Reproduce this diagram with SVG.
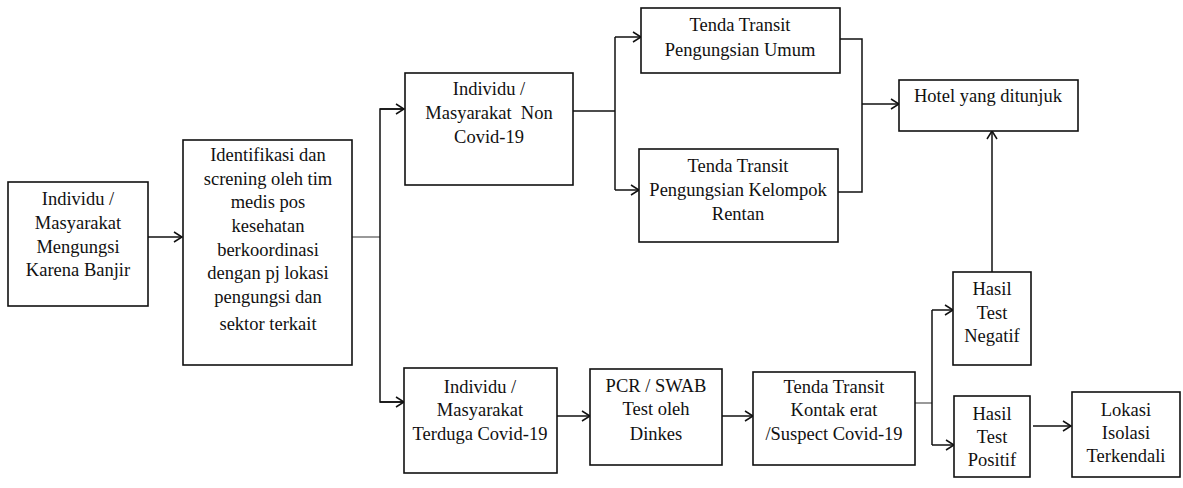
<svg xmlns="http://www.w3.org/2000/svg" width="1183" height="488" viewBox="0 0 1183 488">
<style>
.box{fill:#fff;stroke:#111;stroke-width:1.6}
.t{font-family:"Liberation Serif","Times New Roman",serif;font-size:18.5px;fill:#111;text-anchor:middle}
.c{fill:none;stroke:#111;stroke-width:1.5}
.g{fill:none;stroke:#999;stroke-width:2}
</style>
<defs>
<marker id="ar" markerWidth="12" markerHeight="12" refX="10" refY="6" orient="auto" markerUnits="userSpaceOnUse">
<polyline points="2,1 10,6 2,11" fill="none" stroke="#111" stroke-width="1.5"/>
</marker>
</defs>
<rect width="1183" height="488" fill="#fff"/>
<g id="connectors">
<line class="c" x1="148" y1="237" x2="182" y2="237" marker-end="url(#ar)"/>
<line class="g" x1="352" y1="237" x2="380" y2="237"/>
<polyline class="c" points="404,109 380,109 380,402 404,402"/>
<line class="c" x1="380" y1="109" x2="404" y2="109" marker-end="url(#ar)"/>
<line class="c" x1="380" y1="402" x2="404" y2="402" marker-end="url(#ar)"/>
<line class="c" x1="573" y1="111" x2="615" y2="111"/>
<line class="c" x1="615" y1="37" x2="615" y2="190"/>
<line class="c" x1="615" y1="37" x2="641" y2="37" marker-end="url(#ar)"/>
<line class="c" x1="615" y1="190" x2="639" y2="190" marker-end="url(#ar)"/>
<polyline class="c" points="840,39 862,39 862,192 838,192"/>
<line class="c" x1="862" y1="104" x2="899" y2="104" marker-end="url(#ar)"/>
<line class="c" x1="992" y1="272" x2="992" y2="131" marker-end="url(#ar)"/>
<line class="c" x1="557" y1="416" x2="590" y2="416" marker-end="url(#ar)"/>
<line class="c" x1="722" y1="416" x2="753" y2="416" marker-end="url(#ar)"/>
<line class="g" x1="915" y1="403" x2="932" y2="403"/>
<line class="c" x1="932" y1="310" x2="932" y2="445"/>
<line class="c" x1="932" y1="310" x2="953" y2="310" marker-end="url(#ar)"/>
<line class="c" x1="932" y1="445" x2="954" y2="445" marker-end="url(#ar)"/>
<line class="c" x1="1033" y1="426" x2="1071" y2="426" marker-end="url(#ar)"/>
</g>
<g id="n1">
<rect class="box" x="8" y="182" width="140" height="124"/>
<text class="t" x="78" y="205">Individu /</text>
<text class="t" x="78" y="229">Masyarakat</text>
<text class="t" x="78" y="253">Mengungsi</text>
<text class="t" x="78" y="276">Karena Banjir</text>
</g>
<g id="n2">
<rect class="box" x="183" y="140" width="169" height="225"/>
<text class="t" x="268" y="161">Identifikasi dan</text>
<text class="t" x="268" y="185">screning oleh tim</text>
<text class="t" x="268" y="208">medis pos</text>
<text class="t" x="268" y="232">kesehatan</text>
<text class="t" x="268" y="256">berkoordinasi</text>
<text class="t" x="268" y="279">dengan pj lokasi</text>
<text class="t" x="268" y="303">pengungsi dan</text>
<text class="t" x="268" y="330">sektor terkait</text>
</g>
<g id="n3">
<rect class="box" x="405" y="73" width="168" height="112"/>
<text class="t" x="489" y="95">Individu /</text>
<text class="t" x="489" y="119" xml:space="preserve">Masyarakat  Non</text>
<text class="t" x="489" y="143">Covid-19</text>
</g>
<g id="n4">
<rect class="box" x="641" y="8" width="199" height="65"/>
<text class="t" x="740" y="31">Tenda Transit</text>
<text class="t" x="740" y="56">Pengungsian Umum</text>
</g>
<g id="n5">
<rect class="box" x="639" y="149" width="199" height="93"/>
<text class="t" x="738" y="172">Tenda Transit</text>
<text class="t" x="738" y="196">Pengungsian Kelompok</text>
<text class="t" x="738" y="220">Rentan</text>
</g>
<g id="n6">
<rect class="box" x="899" y="80" width="179" height="51"/>
<text class="t" x="988" y="102">Hotel yang ditunjuk</text>
</g>
<g id="n7">
<rect class="box" x="404" y="368" width="153" height="105"/>
<text class="t" x="480" y="393">Individu /</text>
<text class="t" x="480" y="416">Masyarakat</text>
<text class="t" x="480" y="440">Terduga Covid-19</text>
</g>
<g id="n8">
<rect class="box" x="590" y="369" width="132" height="96"/>
<text class="t" x="656" y="392">PCR / SWAB</text>
<text class="t" x="656" y="415">Test oleh</text>
<text class="t" x="656" y="440">Dinkes</text>
</g>
<g id="n9">
<rect class="box" x="753" y="372" width="162" height="93"/>
<text class="t" x="834" y="393">Tenda Transit</text>
<text class="t" x="834" y="416">Kontak erat</text>
<text class="t" x="834" y="440">/Suspect Covid-19</text>
</g>
<g id="n10">
<rect class="box" x="953" y="272" width="78" height="93"/>
<text class="t" x="992" y="295">Hasil</text>
<text class="t" x="992" y="319">Test</text>
<text class="t" x="992" y="342">Negatif</text>
</g>
<g id="n11">
<rect class="box" x="954" y="396" width="76" height="81"/>
<text class="t" x="992" y="420">Hasil</text>
<text class="t" x="992" y="443">Test</text>
<text class="t" x="992" y="466">Positif</text>
</g>
<g id="n12">
<rect class="box" x="1072" y="392" width="108" height="85"/>
<text class="t" x="1126" y="416">Lokasi</text>
<text class="t" x="1126" y="439">Isolasi</text>
<text class="t" x="1126" y="462">Terkendali</text>
</g>
</svg>
